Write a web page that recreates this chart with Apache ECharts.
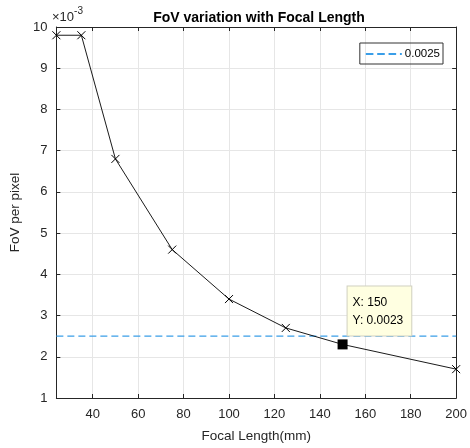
<!DOCTYPE html>
<html><head><meta charset="utf-8">
<script src="https://cdn.jsdelivr.net/npm/echarts@6/dist/echarts.min.js"></script>
<style>html,body{margin:0;padding:0;background:#fff}#c{width:470px;height:448px}</style>
</head><body><div id="c"></div>
<script>
const focalLength = [24, 35, 50, 75, 100, 125, 150, 200];
const fovPerPixel = [9.8, 9.8, 6.8, 4.6, 3.4, 2.7, 2.3, 1.7]; // x 1e-3
const thresholdValue = 2.5; // x 1e-3 (0.0025)
const thresholdLabel = '0.0025';
const tipX = 150, tipY = 2.3, tipText = ['X: 150', 'Y: 0.0023'];
const xMin = 24, xMax = 200, yMin = 1, yMax = 10;

const font = 'Liberation Sans, Arial, sans-serif';
const axisCol = '#262626';
const dashCol = '#3a9ee8';
const chart = echarts.init(document.getElementById('c'), null, {renderer: 'canvas'});
const grid = {left: 50, right: 12, top: 27, bottom: 49};
const baseAxis = {
  axisLine: {show: true, lineStyle: {color: axisCol, width: 1}},
  axisTick: {show: true, inside: true, length: 4, lineStyle: {color: axisCol}},
  axisLabel: {color: axisCol, fontFamily: font, fontSize: 13},
  splitLine: {show: true, lineStyle: {color: '#e6e6e6', width: 1}}
};
chart.setOption({
  animation: false,
  title: {text: 'FoV variation with Focal Length', left: 254, textAlign: 'center', top: 6,
    textStyle: {fontFamily: font, fontSize: 14, fontWeight: 'bold', color: '#000'}},
  legend: {data: [{name: thresholdLabel, icon: 'path://M0,0h8v2h-8z M12,0h8v2h-8z M24,0h8v2h-8z M36,0h2v2h-2z'}],
    right: 27, top: 43, orient: 'vertical',
    borderColor: '#333', borderWidth: 1, padding: [5, 3, 4, 6], itemWidth: 36, itemHeight: 2, itemGap: 2,
    textStyle: {fontFamily: font, fontSize: 11.5, color: '#000', padding: [0, 0, 0, -2]}},
  grid: grid,
  xAxis: [
    Object.assign({}, baseAxis, {type: 'value', min: xMin, max: xMax, minInterval: 20, maxInterval: 20, splitNumber: 9,
      name: 'Focal Length(mm)', nameLocation: 'middle', nameGap: 31,
      nameTextStyle: {fontFamily: font, fontSize: 13.5, color: axisCol},
      axisLabel: {color: axisCol, fontFamily: font, fontSize: 13, margin: 10, showMinLabel: false}}),
    {type: 'value', position: 'top', min: xMin, max: xMax, minInterval: 20, maxInterval: 20, splitNumber: 9,
      axisLine: {show: true, lineStyle: {color: axisCol}}, axisTick: {show: true, inside: true, length: 4, lineStyle: {color: axisCol}},
      axisLabel: {show: false}, splitLine: {show: false}}
  ],
  yAxis: [
    Object.assign({}, baseAxis, {type: 'value', min: yMin, max: yMax, interval: 1,
      name: 'FoV per pixel', nameLocation: 'middle', nameGap: 27, nameRotate: 90,
      nameTextStyle: {fontFamily: font, fontSize: 13.5, color: axisCol},
      axisLabel: {color: axisCol, fontFamily: font, fontSize: 13, margin: 9}}),
    {type: 'value', position: 'right', min: yMin, max: yMax, interval: 1,
      axisLine: {show: true, lineStyle: {color: axisCol}}, axisTick: {show: true, inside: true, length: 4, lineStyle: {color: axisCol}},
      axisLabel: {show: false}, splitLine: {show: false}}
  ],
  graphic: [{type: 'text', left: 52, top: 6, style: {
    text: '{a|×10}{b|-3}', rich: {
      a: {fontFamily: font, fontSize: 13, fill: axisCol, verticalAlign: 'bottom', lineHeight: 18},
      b: {fontFamily: font, fontSize: 10, fill: axisCol, verticalAlign: 'top', lineHeight: 12, padding: [0, 0, 7, 0]}
    }}}],
  series: [
    {type: 'line', name: 'FoV', data: focalLength.map((x, i) => [x, fovPerPixel[i]]),
      symbol: 'path://M0,0L10,10M10,0L0,10', symbolSize: 8, showAllSymbol: true,
      lineStyle: {color: '#000', width: 0.9},
      itemStyle: {color: 'rgba(0,0,0,0)', borderColor: '#000', borderWidth: 1}, z: 3},
    {type: 'line', name: thresholdLabel, data: [[xMin, thresholdValue], [xMax, thresholdValue]],
      symbol: 'none', lineStyle: {color: dashCol, width: 1.2, type: [7, 4]}, itemStyle: {color: dashCol}, z: 2},
    {type: 'scatter', name: 'tip', data: [[tipX, tipY]], symbol: 'rect', symbolSize: 10,
      itemStyle: {color: '#000', opacity: 1}, z: 5,
      label: {show: true, position: [10, -53], formatter: tipText.join('\n'),
        backgroundColor: '#ffffe1', borderColor: '#d0d0c0', borderWidth: 1, padding: [7, 8, 6, 5],
        lineHeight: 18, fontFamily: font, fontSize: 12, color: '#000'}}
  ]
});
</script></body></html>
